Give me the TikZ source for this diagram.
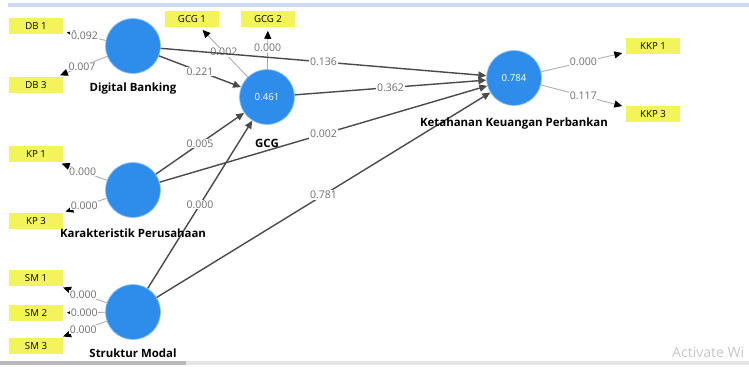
\documentclass[tikz,border=0pt]{standalone}
\usepackage{fontspec}
\setmainfont{Open Sans}
\usetikzlibrary{arrows.meta}

\definecolor{lvblue}{HTML}{2E8DEB}
\definecolor{indyellow}{HTML}{F3F35C}
\definecolor{linegray}{HTML}{4A4A4A}
\definecolor{labelgray}{HTML}{6E6E6E}
\definecolor{topblue}{HTML}{C9DAF2}

\tikzset{
  construct/.style={circle, fill=lvblue, draw=lvblue!55, minimum size=1.1cm, inner sep=0pt,
    text=white, font=\fontsize{5.5}{6.5}\selectfont},
  indicator/.style={rectangle, fill=indyellow, minimum width=1.08cm, minimum height=0.32cm,
    inner sep=0pt, font=\fontsize{5.5}{6.5}\selectfont},
  caption/.style={font=\bfseries\fontsize{6.5}{7.5}\selectfont},
  link/.style={draw=linegray, line width=0.8pt, -{Triangle[length=4.5pt,width=4pt]}},
  outer/.style={draw=gray!65, line width=0.5pt, -{Triangle[length=4.5pt,width=4pt,color=black]},
    shorten >=2pt},
  weight/.style={midway, fill=white, inner sep=0.4pt, text=labelgray, font=\fontsize{6}{7}\selectfont},
}

\begin{document}
\begin{tikzpicture}[x=0.02cm, y=-0.02cm]
    \useasboundingbox (0,0) rectangle (749,367);

    % Window edges
    \draw[topblue, line width=2pt] (8,5) -- (749,5);
    \draw[gray!20, line width=2pt] (0,363) -- (749,363);
    \draw[gray!55, line width=2pt] (0,363) -- (186,363);

    % Constructs
    \node[construct] (db)  at (133,46)  {};
    \node[construct] (gcg) at (267,97)  {0.461};
    \node[construct] (kkp) at (514,78)  {0.784};
    \node[construct] (kp)  at (133,190) {};
    \node[construct] (sm)  at (133,312) {};

    % Indicators
    \node[indicator] (db1)  at (36,26)   {DB 1};
    \node[indicator] (db3)  at (36,85)   {DB 3};
    \node[indicator] (gcg1) at (192,19)  {GCG 1};
    \node[indicator] (gcg2) at (268,19)  {GCG 2};
    \node[indicator] (kkp1) at (653,46)  {KKP 1};
    \node[indicator] (kkp3) at (653,114) {KKP 3};
    \node[indicator] (kp1)  at (36,154)  {KP 1};
    \node[indicator] (kp3)  at (36,221)  {KP 3};
    \node[indicator] (sm1)  at (36,278)  {SM 1};
    \node[indicator] (sm2)  at (36,313)  {SM 2};
    \node[indicator] (sm3)  at (36,346)  {SM 3};

    % Outer loadings
    \draw[outer] (db) -- (db1) node[weight] {0.092};
    \draw[outer] (db) -- (db3) node[weight] {0.007};
    \draw[outer] (gcg) -- (gcg1) node[weight] {0.002};
    \draw[outer] (gcg) -- (gcg2) node[weight] {0.000};
    \draw[outer] (kkp) -- (kkp1) node[weight] {0.000};
    \draw[outer] (kkp) -- (kkp3) node[weight] {0.117};
    \draw[outer] (kp) -- (kp1) node[weight] {0.000};
    \draw[outer] (kp) -- (kp3) node[weight] {0.000};
    \draw[outer] (sm) -- (sm1) node[weight] {0.000};
    \draw[outer] (sm) -- (sm2) node[weight] {0.000};
    \draw[outer] (sm) -- (sm3) node[weight] {0.000};

    % Inner paths
    \draw[link] (db) -- (kkp) node[weight] {0.136};
    \draw[link] (db) -- (gcg) node[weight] {0.221};
    \draw[link] (gcg) -- (kkp) node[weight] {0.362};
    \draw[link] (kp) -- (gcg) node[weight] {0.005};
    \draw[link] (kp) -- (kkp) node[weight] {0.002};
    \draw[link] (sm) -- (gcg) node[weight] {0.000};
    \draw[link] (sm) -- (kkp) node[weight] {0.781};

    % Construct names
    \node[caption] (dbname)  at (133,89)  {Digital Banking};
    \node[caption] (gcgname) at (267,143) {GCG};
    \node[caption] (kkpname) at (514,124) {Ketahanan Keuangan Perbankan};
    \node[caption] (kpname)  at (133,233) {Karakteristik Perusahaan};
    \node[caption] (smname)  at (133,353) {Struktur Modal};

    % Watermark
    \node[anchor=west, text=gray!45, font=\fontsize{8}{9}\selectfont] (mark) at (666,352) {Activate Wi};
\end{tikzpicture}
\end{document}
